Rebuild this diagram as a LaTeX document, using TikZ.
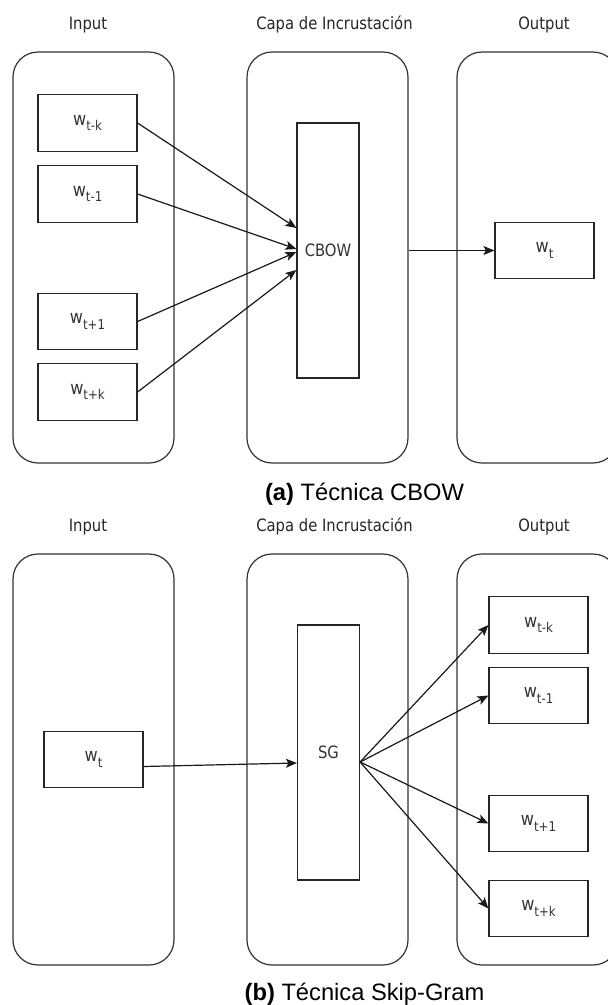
\documentclass[tikz,border=0pt]{standalone}
\usepackage{fontspec}
\setmainfont{DejaVu Sans}[FakeStretch=0.87]
\newfontfamily\capfont{Liberation Sans}
\usetikzlibrary{arrows.meta,positioning}
\newcommand\wlab[1]{{\fontsize{18.5}{18}\selectfont w}\raisebox{-5.3pt}{\fontsize{13.5}{13}\selectfont #1}}
\tikzset{
  container/.style={draw=black!80, line width=1.2pt, rounded corners=25pt, minimum width=161pt, minimum height=411pt, inner sep=0pt},
  wbox/.style={draw=black!85, line width=1.2pt, minimum width=99pt, minimum height=56.5pt, inner sep=0pt, text=black!80},
  layerbox/.style={draw=black!85, line width=1.2pt, minimum width=62pt, minimum height=255pt, inner sep=0pt, font=\fontsize{17}{17}\selectfont, text=black!80},
  title/.style={anchor=base, inner sep=0pt, font=\fontsize{17}{17}\selectfont, text=black!85},
  caption/.style={anchor=base, inner sep=0pt, font=\capfont\fontsize{23.7}{24}\selectfont},
  conn/.style={draw=black!90, line width=1.2pt, -{Stealth[length=11pt,width=9pt,inset=2.5pt]}}
}
\begin{document}
\begin{tikzpicture}[x=1pt,y=-1pt]
\useasboundingbox (0,0) rectangle (608,1005);
% ---------- (a) CBOW ----------
\node[title] (tinA) at (88,29.5) {Input};
\node[title] (tcapaA) at (334.5,29.5) {Capa de Incrustación};
\node[title] (toutA) at (544,29.5) {Output};
\node[container] (inA) at (93.5,257.5) {};
\node[container] (capaA) at (327.5,257.5) {};
\node[container] (outA) at (537.5,257.5) {};
\node[wbox] (wAk) at (87.5,123) {\wlab{t-k}};
\node[wbox] (wA1) at (87.5,194) {\wlab{t-1}};
\node[wbox] (wAp1) at (87.5,321.5) {\wlab{t+1}};
\node[wbox] (wApk) at (87.5,392) {\wlab{t+k}};
\node[layerbox] (cbow) at (328,250.5) {CBOW};
\node[wbox] (wAo) at (544.5,250.5) {\wlab{t}};
\draw[conn] (wAk.east) -- ([yshift=22.5pt]cbow.west);
\draw[conn] (wA1.east) -- ([yshift=1.5pt]cbow.west);
\draw[conn] (wAp1.east) -- ([yshift=-1.5pt]cbow.west);
\draw[conn] (wApk.east) -- ([yshift=-19.5pt]cbow.west);
\draw[conn] (capaA.east |- wAo.west) -- (wAo.west);
\node[caption] (capA) at (364.5,500) {\textbf{(a)} Técnica CBOW};
% ---------- (b) Skip-Gram ----------
\node[title] (tinB) at (88,531.5) {Input};
\node[title] (tcapaB) at (334.5,531.5) {Capa de Incrustación};
\node[title] (toutB) at (544,531.5) {Output};
\node[container] (inB) at (93.5,759.5) {};
\node[container] (capaB) at (327.5,759.5) {};
\node[container] (outB) at (537.5,759.5) {};
\node[wbox] (wBi) at (93.5,759.5) {\wlab{t}};
\node[layerbox] (sg) at (328.5,752.5) {SG};
\node[wbox] (wBk) at (538.5,625) {\wlab{t-k}};
\node[wbox] (wB1) at (538.5,695.5) {\wlab{t-1}};
\node[wbox] (wBp1) at (538.5,823.5) {\wlab{t+1}};
\node[wbox] (wBpk) at (538.5,908.5) {\wlab{t+k}};
\draw[conn] ([yshift=-7pt]wBi.east) -- ([yshift=-10.5pt]sg.west);
\draw[conn] ([yshift=-9.5pt]sg.east) -- (wBk.west);
\draw[conn] ([yshift=-9.5pt]sg.east) -- (wB1.west);
\draw[conn] ([yshift=-9.5pt]sg.east) -- (wBp1.west);
\draw[conn] ([yshift=-9.5pt]sg.east) -- (wBpk.west);
\node[caption] (capB) at (364.5,1000.5) {\textbf{(b)} Técnica Skip-Gram};
\end{tikzpicture}
\end{document}
